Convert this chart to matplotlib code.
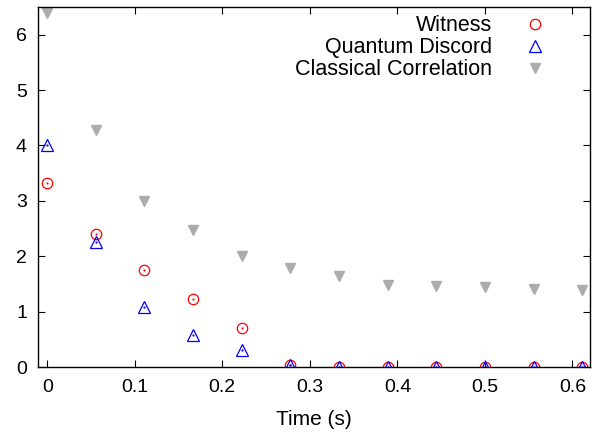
import matplotlib
matplotlib.use('Agg')
import matplotlib.pyplot as plt

# time points (s)
time_s = [0.0, 0.0556, 0.1111, 0.1667, 0.2222, 0.2778, 0.3333, 0.3889, 0.4444, 0.5, 0.5556, 0.6111]
witness = [3.33, 2.40, 1.75, 1.22, 0.70, 0.03, 0.0, 0.0, 0.0, 0.0, 0.0, 0.0]
discord = [4.00, 2.25, 1.08, 0.58, 0.30, 0.04, 0.0, 0.0, 0.0, 0.0, 0.0, 0.0]
classical = [6.40, 4.28, 3.00, 2.48, 2.00, 1.78, 1.64, 1.48, 1.46, 1.44, 1.41, 1.39]

plt.rcParams['font.family'] = ['Liberation Sans', 'DejaVu Sans']
plt.rcParams['font.size'] = 14

fig = plt.figure(figsize=(6.06, 4.32), dpi=100)
ax = fig.add_axes([38 / 606, 1 - 367 / 432, (590 - 38) / 606, (367 - 7) / 432])

ax.plot(time_s, witness, linestyle='none', marker='o', markersize=7.5,
        markerfacecolor='none', markeredgecolor='red', markeredgewidth=0.9, label='Witness')
ax.plot(time_s, witness, linestyle='none', marker='.', markersize=1.2, color='red')
ax.plot(time_s, discord, linestyle='none', marker='^', markersize=8,
        markerfacecolor='none', markeredgecolor='blue', markeredgewidth=0.9, label='Quantum Discord')
ax.plot(time_s, discord, linestyle='none', marker='.', markersize=1.2, color='blue')
ax.plot(time_s, classical, linestyle='none', marker='v', markersize=7.5,
        color='#acacac', label='Classical Correlation')

ax.set_xlim(-0.0105, 0.62)
ax.set_ylim(0, 6.5)
ax.set_xticks([0, 0.1, 0.2, 0.3, 0.4, 0.5, 0.6])
ax.set_xticklabels(['0', '0.1', '0.2', '0.3', '0.4', '0.5', '0.6'])
ax.set_yticks([0, 1, 2, 3, 4, 5, 6])
ax.tick_params(direction='in', top=True, right=True, length=5, width=0.8)
ax.tick_params(axis='x', pad=9)
ax.tick_params(axis='y', pad=8)
for s in ax.spines.values():
    s.set_linewidth(1)
ax.set_xlabel('Time (s)', fontsize=15, labelpad=10)

ax.legend(loc='upper right', frameon=False, markerfirst=False, handlelength=1.5,
          handletextpad=1.26, labelspacing=0.05, borderaxespad=0, fontsize=15.5,
          bbox_to_anchor=(0.946, 1.0016))

fig.savefig('out.png', dpi=100)
